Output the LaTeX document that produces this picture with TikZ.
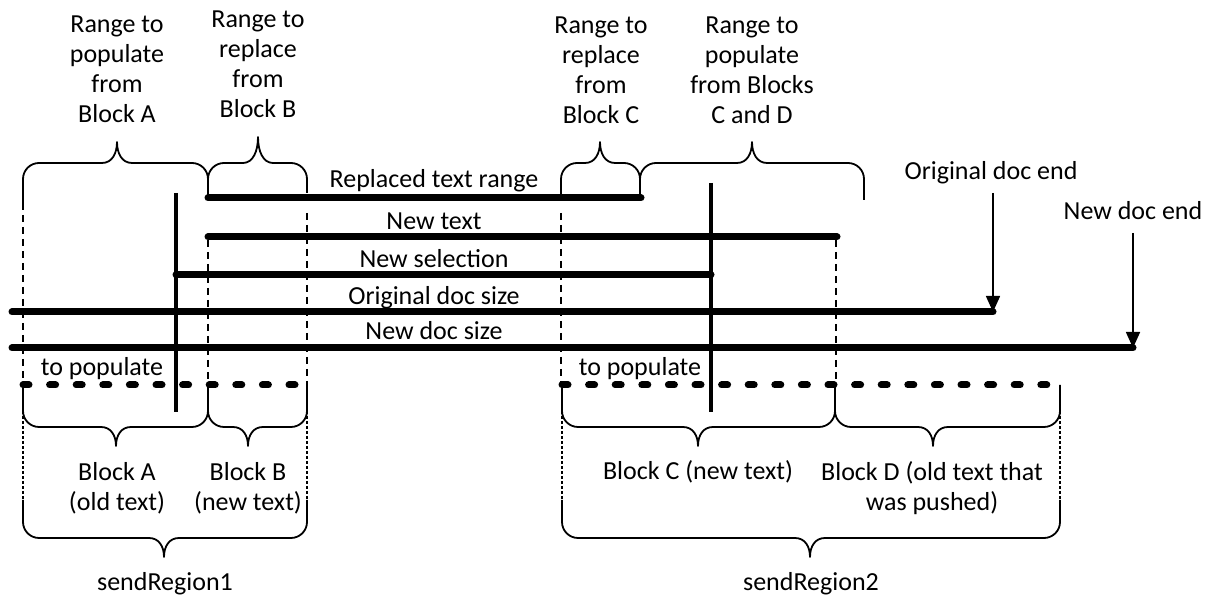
\documentclass[tikz,border=0pt]{standalone}
\usepackage{fontspec}
\setmainfont{Carlito}
\usetikzlibrary{arrows.meta}
% #1 x-left, #2 x-right, #3 x-tip, #4 y-body, #5 y-tip, #6 y-end left, #7 y-end right, #8 signed corner radius
\newcommand\mybrace[8]{%
  \draw[bracestyle] (#1,#6) -- (#1,{#4+#8})
    .. controls (#1,{#4+0.45*#8}) and ({#1+0.45*abs(#8)},#4) .. ({#1+abs(#8)},#4)
    -- ({#3-15},#4)
    .. controls ({#3-5},#4) and (#3,{#4+0.45*(#5-#4)}) .. (#3,#5)
    .. controls (#3,{#4+0.45*(#5-#4)}) and ({#3+5},#4) .. ({#3+15},#4)
    -- ({#2-abs(#8)},#4)
    .. controls ({#2-0.45*abs(#8)},#4) and (#2,{#4+0.45*#8}) .. (#2,{#4+#8})
    -- (#2,#7);}
\begin{document}
\begin{tikzpicture}[x=0.5pt,y=-0.5pt,
  every node/.style={font=\fontsize{13}{15}\selectfont, inner sep=0pt},
  lbl/.style={align=center},
  baselbl/.style={anchor=base},
  bracestyle/.style={line width=0.9pt, line join=round},
  thickline/.style={line width=3.5pt, line cap=round},
  selline/.style={line width=2.2pt},
  thindash/.style={line width=0.6pt, dash pattern=on 3.5pt off 2.5pt},
  thindot/.style={line width=0.8pt, dash pattern=on 1.5pt off 1pt},
  thickdash/.style={line width=3.5pt, line cap=round, dash pattern=on 3pt off 10.3pt},
  arr/.style={line width=0.8pt, -{Triangle[width=7pt,length=8pt]}}]
\useasboundingbox (0,0) rectangle (1210,597);

% top labels
\node[lbl] (lA) at (117,69.5) {Range to\\populate\\from\\Block A};
\node[lbl] (lB) at (258,64) {Range to\\replace\\from\\Block B};
\node[lbl] (lC) at (601,70) {Range to\\replace\\from\\Block C};
\node[lbl] (lD) at (752,70) {Range to\\populate\\from Blocks\\C and D};

% top braces
\mybrace{23}{208}{117}{163}{142}{203}{198}{16}
\mybrace{208}{307}{258}{163}{137}{198}{193}{16}
\mybrace{561}{640}{600}{163}{142}{198}{198}{16}
\mybrace{640}{864}{752}{163}{142}{198}{200}{16}

% middle labels
\node[baselbl] (lrep) at (434,188) {Replaced text range};
\node[baselbl] (lnew) at (434,230) {New text};
\node[baselbl] (lsel) at (434,268) {New selection};
\node[baselbl] (lorig) at (434,305) {Original doc size};
\node[baselbl] (lnds) at (434,340) {New doc size};
\node[baselbl] (tp1) at (102,376) {to populate};
\node[baselbl] (tp2) at (640,376) {to populate};
\node[baselbl] (lode) at (991,180) {Original doc end};
\node[baselbl] (lnde) at (1133,220) {New doc end};

% coordinates
\coordinate (rs) at (208,198); \coordinate (re) at (641,198);
\coordinate (ns) at (208,237); \coordinate (ne) at (837,237);
\coordinate (ss) at (176,275); \coordinate (se) at (711,275);
\coordinate (os) at (12,312);  \coordinate (oe) at (993,312);
\coordinate (ds) at (12,348);  \coordinate (de) at (1133,348);
\coordinate (v1t) at (176,193); \coordinate (v1b) at (176,412);
\coordinate (v2t) at (711,183); \coordinate (v2b) at (711,412);
\coordinate (oat) at (993,193); \coordinate (nat) at (1133,233);
\coordinate (pA1) at (23,385); \coordinate (pA2) at (296,385);
\coordinate (pC1) at (562,385); \coordinate (pC2) at (1060,385);

% thin dashed guides
\coordinate (g1t) at (23,203);  \coordinate (g1b) at (23,385);
\coordinate (g2t) at (208,240); \coordinate (g2b) at (208,385);
\coordinate (g3t) at (307,213); \coordinate (g3b) at (307,385);
\coordinate (g4t) at (561,213); \coordinate (g4b) at (561,385);
\coordinate (g5t) at (836,240); \coordinate (g5b) at (836,385);
\draw[thindash] (g1t) -- (g1b);
\draw[thindash] (g2t) -- (g2b);
\draw[thindash] (g3t) -- (g3b);
\draw[thindash] (g4t) -- (g4b);
\draw[thindash] (g5t) -- (g5b);

% thick lines
\draw[thickline] (rs) -- (re);
\draw[thickline] (ns) -- (ne);
\draw[thickline] (ss) -- (se);
\draw[thickline] (os) -- (oe);
\draw[thickline] (ds) -- (de);
\draw[selline] (v1t) -- (v1b);
\draw[selline] (v2t) -- (v2b);
\draw[thickdash] (pA1) -- (pA2);
\draw[thickdash] (pC1) -- (pC2);

% arrows
\draw[arr] (oat) -- (oe);
\draw[arr] (nat) -- (de);

% bottom braces
\mybrace{23}{208}{116}{427}{446}{385}{385}{-16}
\mybrace{208}{307}{248}{427}{446}{385}{385}{-16}
\mybrace{562}{835}{698}{427}{446}{385}{385}{-16}
\mybrace{835}{1060}{933}{427}{446}{385}{385}{-16}
\mybrace{23}{307}{164}{538}{557}{500}{500}{-16}
\mybrace{562}{1060}{810}{538}{557}{500}{500}{-16}

% dotted guides
\coordinate (h1t) at (23,411);   \coordinate (h1b) at (23,502);
\coordinate (h2t) at (307,411);  \coordinate (h2b) at (307,502);
\coordinate (h3t) at (562,411);  \coordinate (h3b) at (562,502);
\coordinate (h4t) at (1060,411); \coordinate (h4b) at (1060,502);
\draw[thindot] (h1t) -- (h1b);
\draw[thindot] (h2t) -- (h2b);
\draw[thindot] (h3t) -- (h3b);
\draw[thindot] (h4t) -- (h4b);

% bottom labels
\node[lbl] (bA) at (117,488) {Block A\\(old text)};
\node[lbl] (bB) at (248,488) {Block B\\(new text)};
\node[baselbl] (bC) at (698,480) {Block C (new text)};
\node[lbl] (bD) at (932,488) {Block D (old text that\\was pushed)};
\node[baselbl] (sr1) at (165,591) {sendRegion1};
\node[baselbl] (sr2) at (811,591) {sendRegion2};
\end{tikzpicture}
\end{document}
